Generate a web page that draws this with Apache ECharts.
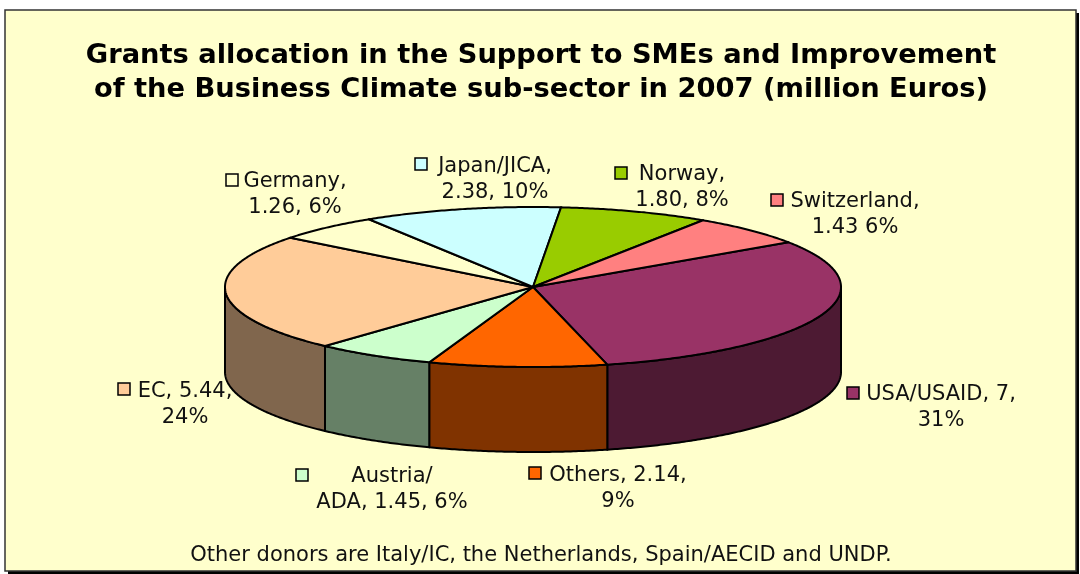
<!DOCTYPE html>
<html>
<head>
<meta charset="utf-8">
<style>html,body{margin:0;padding:0;background:#fff}#c{width:1080px;height:574px}</style>
<script src="https://cdn.jsdelivr.net/npm/echarts@6/dist/echarts.min.js"></script>
</head>
<body>
<div id="c"></div>
<script>
// Data, in drawing order (clockwise from the USA / Switzerland boundary)
const donors = ['USA/USAID', 'Others', 'Austria/ADA', 'EC', 'Germany', 'Japan/JICA', 'Norway', 'Switzerland'];
const grants = [7, 2.14, 1.45, 5.44, 1.26, 2.38, 1.80, 1.43];
const labelLine1 = ['USA/USAID, 7,', 'Others, 2.14,', 'Austria/', 'EC, 5.44,', 'Germany,', 'Japan/JICA,', 'Norway,', 'Switzerland,'];
const labelLine2 = ['31%', '9%', 'ADA, 1.45, 6%', '24%', '1.26, 6%', '2.38, 10%', '1.80, 8%', '1.43 6%'];
const titleText = 'Grants allocation in the Support to SMEs and Improvement\nof the Business Climate sub-sector in 2007 (million Euros)';
const noteText = 'Other donors are Italy/IC, the Netherlands, Spain/AECID and UNDP.';

// Styles and layout
const topColors = ['#993366', '#FF6600', '#CCFFCC', '#FFCC99', '#FFFFCC', '#CCFFFF', '#99CC00', '#FF8080'];
const wallColors = ['#4D1A33', '#803300', '#668066', '#80664D', '#808066', '#668080', '#4D6600', '#804040'];
const pie = {cx: 533, cy: 287, rx: 308, ry: 80, depth: 85, startDeg: 34};
const textX = [941, 618, 392, 185, 295, 495, 682, 855];
const textY = [395, 476, 477, 392, 182, 167, 175, 202];
const keyX = [853, 535, 302, 124, 232, 421, 621, 777];
const keyY = [393, 473, 475, 389, 180, 164, 173, 200];
const FONT = '"DejaVu Sans", Verdana, sans-serif';

const total = grants.reduce((a, b) => a + b, 0);
const pt = (deg, dy) => {
  const r = deg * Math.PI / 180;
  return [pie.cx + pie.rx * Math.cos(r), pie.cy - pie.ry * Math.sin(r) + (dy || 0)];
};
const arc = (a, b, dy) => {
  const n = Math.max(2, Math.ceil(Math.abs(a - b) * 2));
  const out = [];
  for (let i = 0; i <= n; i++) out.push(pt(a + (b - a) * i / n, dy));
  return out;
};
const bounds = (idx) => {
  let a = pie.startDeg;
  for (let i = 0; i < idx; i++) a -= grants[i] / total * 360;
  return [a, a - grants[idx] / total * 360];
};
const lineStyle = {stroke: '#000', lineWidth: 2, lineJoin: 'round'};

function wallItem(params, api) {
  const i = params.dataIndex;
  const [a, b] = bounds(i);
  const children = [];
  // visible part of the rim: math angles between 0 and -180 (mod 360)
  [[0, -180], [-360, -540]].forEach(([hi, lo]) => {
    const s = Math.min(a, hi), e = Math.max(b, lo);
    if (s > e) {
      const upper = arc(s, e, 0);
      const lower = arc(e, s, pie.depth);
      children.push({type: 'polygon', shape: {points: upper.concat(lower)},
        style: Object.assign({fill: wallColors[i]}, lineStyle)});
    }
  });
  return {type: 'group', children};
}

function topItem(params, api) {
  const i = params.dataIndex;
  const [a, b] = bounds(i);
  return {type: 'polygon', shape: {points: [[pie.cx, pie.cy]].concat(arc(a, b, 0))},
    style: Object.assign({fill: topColors[i]}, lineStyle)};
}

function labelItem(params, api) {
  const i = params.dataIndex;
  return {type: 'group', children: [
    {type: 'rect', shape: {x: keyX[i] - 6, y: keyY[i] - 6, width: 12, height: 12},
      style: {fill: topColors[i], stroke: '#000', lineWidth: 1.5}},
    {type: 'text', style: {x: textX[i], y: textY[i], text: labelLine1[i], fill: '#111',
      font: '21px ' + FONT, align: 'center', verticalAlign: 'middle'}},
    {type: 'text', style: {x: textX[i], y: textY[i] + 26, text: labelLine2[i], fill: '#111',
      font: '21px ' + FONT, align: 'center', verticalAlign: 'middle'}}
  ]};
}

const chart = echarts.init(document.getElementById('c'), null, {renderer: 'canvas'});
const rows = donors.map((d, i) => [d, grants[i]]);
chart.setOption({
  animation: false,
  backgroundColor: '#fff',
  title: {
    text: titleText, left: 536, top: 34, textAlign: 'center',
    textStyle: {fontFamily: FONT, fontWeight: 'bold', fontSize: 27.3, lineHeight: 34, color: '#000'}
  },
  graphic: [
    {type: 'rect', z: -10, shape: {x: 8, y: 13, width: 1071, height: 561}, style: {fill: '#000'}},
    {type: 'rect', z: -9, shape: {x: 5, y: 10, width: 1071, height: 561},
      style: {fill: '#FFFFCC', stroke: '#333', lineWidth: 1.5}},
    {type: 'text', z: 5, style: {x: 541, y: 556, text: noteText, fill: '#111',
      font: '21px ' + FONT, align: 'center', verticalAlign: 'middle'}}
  ],
  series: [
    {type: 'custom', coordinateSystem: 'none', data: rows, renderItem: wallItem, silent: true, z: 2},
    {type: 'custom', coordinateSystem: 'none', data: rows, renderItem: topItem, silent: true, z: 3},
    {type: 'custom', coordinateSystem: 'none', data: rows, renderItem: labelItem, silent: true, z: 4}
  ]
});
</script>
</body>
</html>
